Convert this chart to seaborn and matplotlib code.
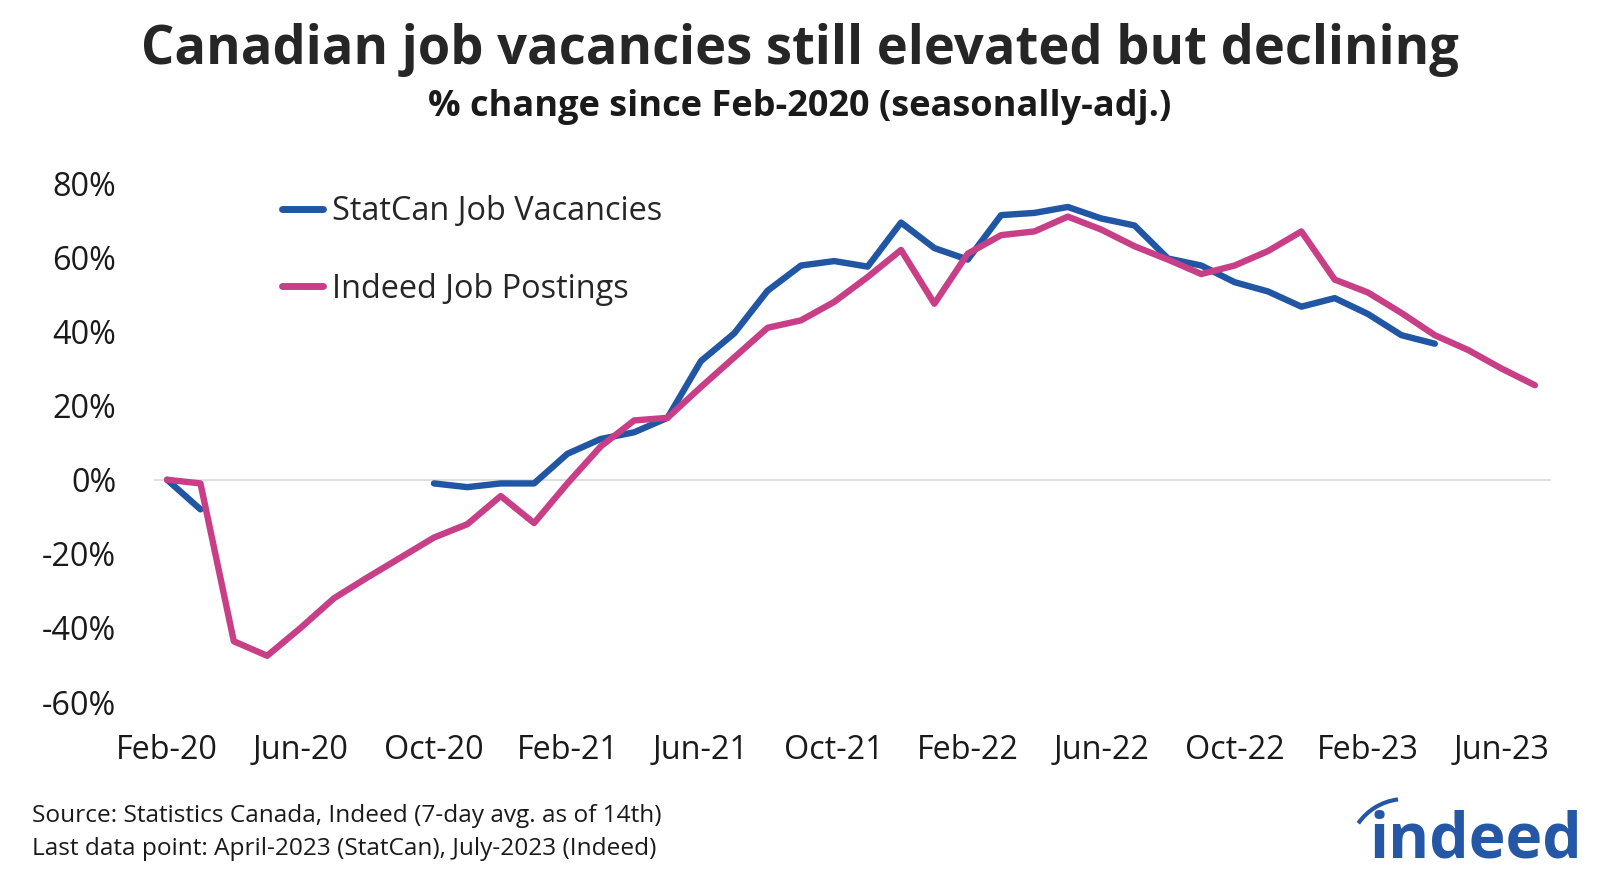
import pandas as pd
import numpy as np
import matplotlib.pyplot as plt
import seaborn as sns
from matplotlib.patches import Arc
from matplotlib.lines import Line2D
from matplotlib.transforms import IdentityTransform

# monthly values, Feb-2020 .. Jul-2023 (% change since Feb-2020)
months = pd.date_range("2020-02-01", "2023-07-01", freq="MS")

indeed = [0, -1, -43.6, -47.5, -40, -32, -26.4, -21, -15.6, -12, -4.4, -11.7,
          -1, 9, 16, 16.7, 25, 33, 41, 43, 48, 54.7, 62, 47.5,
          61, 66, 67, 71, 67.5, 63, 59.4, 55.5, 57.8, 61.7, 67, 54,
          50.5, 45, 39, 35, 30, 25.5]

# StatCan: Feb/Mar-2020, then Oct-2020 .. Apr-2023
statcan_a = [0, -8]
statcan_b = [-1, -2, -1, -1, 7, 11, 12.8, 16.7, 32, 39.5, 51, 57.8,
             59, 57.5, 69.4, 62.5, 59.4, 71.4, 72, 73.6, 70.5, 68.6, 59.7, 57.8,
             53.3, 50.8, 46.7, 49, 44.7, 39, 36.7]

tick_labels = ["Feb-20", "Jun-20", "Oct-20", "Feb-21", "Jun-21", "Oct-21",
               "Feb-22", "Jun-22", "Oct-22", "Feb-23", "Jun-23"]

BLUE = "#2156a5"
PINK = "#c83f87"
LOGO = "#2557a7"

idx = np.arange(len(months))
rows = []
for i, v in enumerate(indeed):
    rows.append(("Indeed Job Postings", "i", idx[i], v))
for i, v in enumerate(statcan_a):
    rows.append(("StatCan Job Vacancies", "a", idx[i], v))
for i, v in enumerate(statcan_b):
    rows.append(("StatCan Job Vacancies", "b", idx[i + 8], v))
df = pd.DataFrame(rows, columns=["series", "segment", "month", "value"])

sns.set_style("white")
plt.rcParams['font.family'] = ['Open Sans', 'DejaVu Sans']

fig = plt.figure(figsize=(16, 8.77), dpi=100)
ax = fig.add_axes([0.0961, 0.191, 0.873, 0.6085])

ax.axhline(0, color="#d9d9d9", lw=1.2, zorder=0)
sns.lineplot(data=df, x="month", y="value", hue="series", units="segment",
             estimator=None, palette={"StatCan Job Vacancies": BLUE,
                                      "Indeed Job Postings": PINK},
             hue_order=["StatCan Job Vacancies", "Indeed Job Postings"],
             lw=4.6, ax=ax, legend=False)

ax.set_xlim(-0.4, 41.47)
ax.set_ylim(-62, 82)
ax.set_xticks(idx[::4])
ax.set_xticklabels(tick_labels)
ax.set_yticks(range(-60, 81, 20))
ax.set_yticklabels([f"{t}%" for t in range(-60, 81, 20)])
ax.tick_params(axis="both", length=0, labelsize=23.3, colors="#1a1a1a")
ax.tick_params(axis="y", pad=27)
ax.tick_params(axis="x", pad=17.6)
ax.set_xlabel("")
ax.set_ylabel("")
sns.despine(ax=ax, left=True, bottom=True)

handles = [Line2D([], [], color=BLUE, lw=5, solid_capstyle="round"),
           Line2D([], [], color=PINK, lw=5, solid_capstyle="round")]
ax.legend(handles, ["StatCan Job Vacancies", "Indeed Job Postings"],
          loc="upper left", bbox_to_anchor=(0.0707, 1.018), frameon=False,
          fontsize=23.4, handlelength=1.26, handletextpad=0.3, labelspacing=1.36)

fig.text(0.5, 0.943, "Canadian job vacancies still elevated but declining",
         ha="center", va="center", fontsize=37.8, fontweight="bold", color="#262626")
fig.text(0.5, 0.878, "% change since Feb-2020 (seasonally-adj.)",
         ha="center", va="center", fontsize=26, fontweight="bold", color="#1a1a1a")

fig.text(0.02, 0.0696, "Source: Statistics Canada, Indeed (7-day avg. as of 14th)",
         ha="left", va="center", fontsize=17.6, color="#1a1a1a")
fig.text(0.02, 0.032, "Last data point: April-2023 (StatCan), July-2023 (Indeed)",
         ha="left", va="center", fontsize=17.6, color="#1a1a1a")

# logo
fig.text(0.989, 0.0228, "indeed", ha="right", va="baseline", fontsize=45,
         fontweight="bold", color=LOGO)
fig.add_artist(Arc((1405, 21), 114, 114, theta1=97, theta2=145,
                   color=LOGO, lw=3, transform=IdentityTransform()))

fig.savefig("out.png", dpi=100)
